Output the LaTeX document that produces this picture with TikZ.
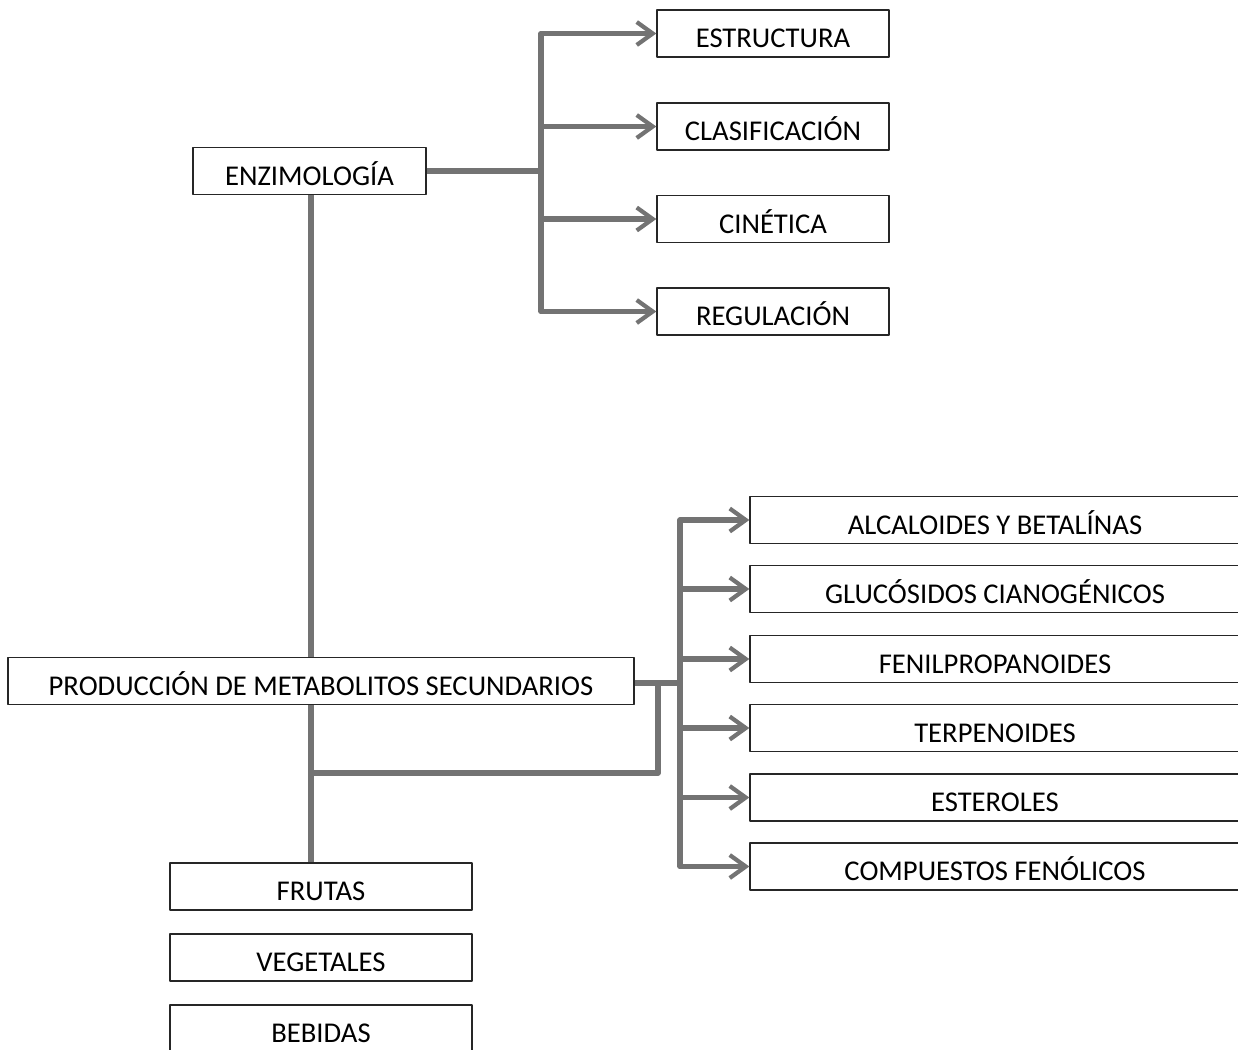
\documentclass[tikz,border=0pt]{standalone}
\usepackage{fontspec}
\setmainfont{Carlito}
\usetikzlibrary{arrows.meta}
\begin{document}
\begin{tikzpicture}[x=0.02cm, y=-0.02cm, line join=round,
	caja/.style={draw=black!85, line width=0.8pt, inner xsep=0pt, inner ysep=0pt, text height=0.75cm, text depth=0.19cm, font=\fontsize{16.3}{19}\selectfont},
	linea/.style={draw=black!55, line width=3.2pt},
	flecha/.style={linea, -{Straight Barb[length=0.32cm, width=0.46cm, line width=2.4pt]}}]
	\useasboundingbox (0,0) rectangle (1238,1049);

	% rama de enzimologia
	\node[caja, minimum width=4.66cm] (enz) at (309.5,171) {ENZIMOLOGÍA};
	\node[caja, minimum width=4.64cm] (estr) at (773,33.5) {ESTRUCTURA};
	\node[caja, minimum width=4.64cm] (clas) at (773,126.5) {CLASIFICACIÓN};
	\node[caja, minimum width=4.64cm] (cine) at (773,219) {CINÉTICA};
	\node[caja, minimum width=4.64cm] (regu) at (773,311.5) {REGULACIÓN};
	\coordinate (j1) at (541,171);
	\draw[linea] (enz.east) -- (j1);
	\foreach \hijo in {estr, clas, cine, regu}
		\draw[flecha] (j1) |- (\hijo.west);

	% rama de metabolitos
	\node[caja, minimum width=12.52cm] (prod) at (321,681) {PRODUCCIÓN DE METABOLITOS SECUNDARIOS};
	\node[caja, minimum width=9.8cm] (alca) at (995,520) {ALCALOIDES Y BETALÍNAS};
	\node[caja, minimum width=9.8cm] (gluc) at (995,589) {GLUCÓSIDOS CIANOGÉNICOS};
	\node[caja, minimum width=9.8cm] (feni) at (995,659) {FENILPROPANOIDES};
	\node[caja, minimum width=9.8cm] (terp) at (995,728) {TERPENOIDES};
	\node[caja, minimum width=9.8cm] (este) at (995,797.5) {ESTEROLES};
	\node[caja, minimum width=9.8cm] (comp) at (995,866.5) {COMPUESTOS FENÓLICOS};
	\coordinate (j2) at (680,683);
	\draw[linea] (prod.east |- j2) -- (j2);
	\foreach \hijo in {alca, gluc, feni, terp, este, comp}
		\draw[flecha] (j2) |- (\hijo.west);

	% tronco y alimentos
	\node[caja, minimum width=6.04cm] (frut) at (321,886.5) {FRUTAS};
	\node[caja, minimum width=6.04cm] (vege) at (321,957.5) {VEGETALES};
	\node[caja, minimum width=6.04cm] (bebi) at (321,1028.5) {BEBIDAS};
	\coordinate (t) at (311,0);
	\coordinate (lazo) at (658,773);
	\draw[linea] (t |- enz.south) -- (t |- prod.north);
	\draw[linea] (t |- prod.south) -- (t |- frut.north);
	\draw[linea] (t |- lazo) -- (lazo) -- (lazo |- j2);
\end{tikzpicture}
\end{document}
